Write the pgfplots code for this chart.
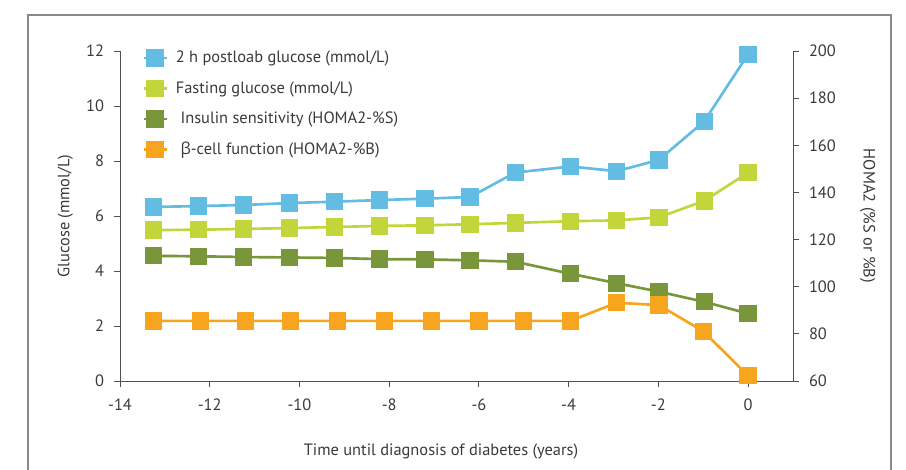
\documentclass[border=0pt]{standalone}
\usepackage{pgfplots}
\pgfplotsset{compat=1.18}
\usepackage{fontspec}
\setmainfont{PT Sans}
\newfontfamily\grk{Open Sans}
\definecolor{cblue}{HTML}{63BCE1}
\definecolor{clime}{HTML}{C2D63B}
\definecolor{cdkgreen}{HTML}{7A963A}
\definecolor{corange}{HTML}{F7A51E}
\definecolor{axgray}{HTML}{505050}
\definecolor{txt}{HTML}{3A3A3A}
\definecolor{framegray}{HTML}{8A8A8A}

\pgfplotsset{
  commonax/.style={
    at={(0,0)}, anchor=south west,
    scale only axis, width=504.75pt, height=247.5pt,
    xmin=-14, xmax=1,
    axis line style={-, draw=axgray, line width=0.7pt},
    tick align=outside, major tick length=4.5pt,
    tick style={draw=axgray, line width=0.7pt},
    ticklabel style={font=\fontsize{12.3}{14}\selectfont, text=txt},
    label style={font=\fontsize{12.3}{14}\selectfont, text=txt},
    /pgf/number format/assume math mode=true,
    clip=false,
  },
  ser/.style={#1, line width=2pt, mark=square*, mark size=5.5pt,
    mark options={solid, draw=none, fill=#1}},
}

\begin{document}
\begin{tikzpicture}[x=0.75pt,y=0.75pt]
\useasboundingbox (-120,-89) rectangle (786,381);
\begin{scope}
\clip (-120,-89) rectangle (786,381);
\draw[framegray, line width=1.1pt] (-92,-150) rectangle (771,366);
\end{scope}

\begin{axis}[commonax,
  ymin=0, ymax=12,
  axis x line*=bottom, axis y line*=left,
  xtick={-14,-12,...,0}, ytick={0,2,...,12},
  xticklabel style={yshift=-5pt},
  yticklabel style={xshift=-4pt},
  xlabel={Time until diagnosis of diabetes (years)},
  xlabel style={at={(axis description cs:0.477,0)}, anchor=center, yshift=-53pt},
  ylabel={Glucose (mmol/L)},
  ylabel style={at={(axis description cs:0,0.5)}, anchor=center, yshift=41pt},
]
\addplot[ser=cblue] coordinates {
(-13.25,6.33) (-12.25,6.36) (-11.25,6.40) (-10.22,6.47) (-9.22,6.52) (-8.21,6.58) (-7.2,6.63) (-6.2,6.69) (-5.19,7.58) (-3.96,7.80) (-2.93,7.63) (-1.99,8.04) (-0.98,9.44) (0,11.88)};
\addplot[ser=clime] coordinates {
(-13.25,5.49) (-12.25,5.50) (-11.25,5.53) (-10.22,5.56) (-9.22,5.60) (-8.21,5.64) (-7.2,5.66) (-6.2,5.70) (-5.19,5.75) (-3.96,5.81) (-2.93,5.84) (-1.99,5.95) (-0.98,6.55) (0,7.58)};
\end{axis}

\begin{axis}[commonax,
  ymin=60, ymax=200,
  axis x line=none, axis y line*=right,
  ytick={60,80,...,200},
  yticklabel style={xshift=4pt},
  ylabel={HOMA2 (\%S or \%B)},
  ylabel style={at={(axis description cs:1,0.5)}, anchor=center, rotate=180, yshift=56pt},
  legend style={at={(axis description cs:0.027,1.016)}, anchor=north west,
    draw=none, fill=none, font=\fontsize{12.3}{14}\selectfont, text=txt,
    row sep=8.5pt, legend cell align=left},
]
\addlegendimage{ser=cblue}
\addlegendentry{\hspace{4pt}2 h postloab glucose (mmol/L)}
\addlegendimage{ser=clime}
\addlegendentry{\hspace{4pt}Fasting glucose (mmol/L)}
\addplot[ser=cdkgreen] coordinates {
(-13.25,113.1) (-12.25,112.9) (-11.25,112.6) (-10.22,112.4) (-9.22,112.2) (-8.21,111.7) (-7.2,111.6) (-6.2,111.2) (-5.19,110.6) (-3.96,105.5) (-2.93,101.5) (-1.99,97.9) (-0.98,93.6) (0,88.6)};
\addlegendentry{\hspace{7.5pt}Insulin sensitivity (HOMA2-\%S)}
\addplot[ser=corange] coordinates {
(-13.25,85.5) (-12.2,85.5) (-11.2,85.5) (-10.2,85.5) (-9.15,85.5) (-8.1,85.5) (-7.05,85.5) (-6.0,85.5) (-5.0,85.5) (-3.96,85.5) (-2.93,93.2) (-1.99,92.2) (-1.0,81.1) (0,62.2)};
\addlegendentry{\hspace{7.5pt}{\grk β}-cell function (HOMA2-\%B)}
\end{axis}
\end{tikzpicture}
\end{document}
